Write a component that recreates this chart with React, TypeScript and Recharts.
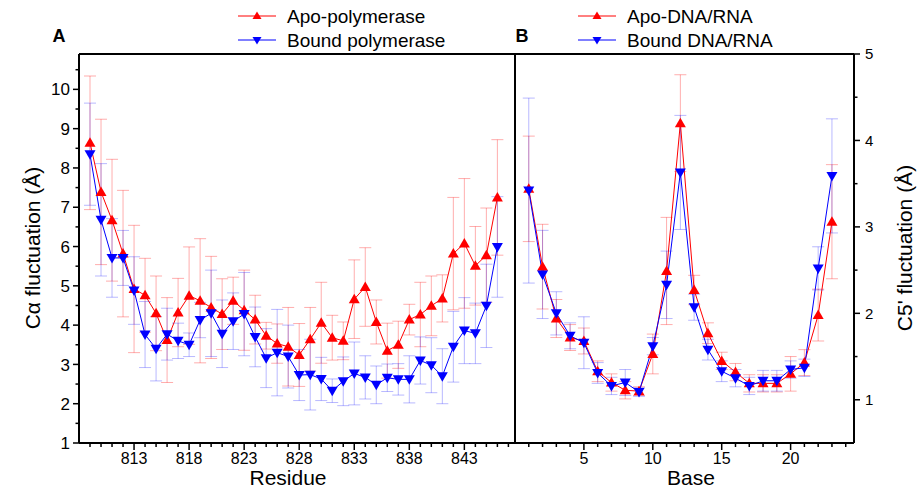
import React from "react";
import { LineChart, Line, XAxis, YAxis, ErrorBar, ReferenceLine } from "recharts";

// Panel A: C-alpha fluctuation per residue
const residues = [
  809, 810, 811, 812, 813, 814, 815, 816, 817, 818, 819, 820, 821, 822, 823, 824, 825, 826, 827,
  828, 829, 830, 831, 832, 833, 834, 835, 836, 837, 838, 839, 840, 841, 842, 843, 844, 845, 846,
];
const apoPolymerase = [
  8.64, 7.39, 6.67, 5.82, 4.92, 4.76, 4.3, 3.62, 4.32, 4.75, 4.62, 4.45, 4.28, 4.62, 4.38, 4.14, 3.73, 3.53, 3.45,
  3.24, 3.64, 4.06, 3.68, 3.6, 4.66, 4.97, 4.08, 3.35, 3.5, 4.14, 4.27, 4.49, 4.68, 5.82, 6.08, 5.51, 5.78, 7.25,
];
const apoPolymeraseErr = [
  1.7, 1.85, 1.55, 1.61, 1.62, 0.94, 0.95, 1.08, 0.87, 1.24, 1.58, 1.3, 0.9, 0.6, 1.02, 0.62, 0.34, 0.5, 1.0,
  0.8, 0.81, 1.03, 0.57, 0.48, 1.0, 1.0, 0.56, 0.7, 0.6, 0.39, 0.82, 0.76, 0.6, 1.43, 1.65, 1.0, 1.2, 1.47,
];
const boundPolymerase = [
  8.35, 6.68, 5.71, 5.71, 4.88, 3.76, 3.4, 3.77, 3.6, 3.5, 4.13, 4.3, 3.78, 4.1, 4.28, 3.7, 3.16, 3.3, 3.2,
  2.73, 2.74, 2.63, 2.33, 2.57, 2.77, 2.67, 2.48, 2.66, 2.62, 2.62, 3.1, 2.98, 2.7, 3.45, 3.86, 3.79, 4.49, 5.99,
];
const boundPolymeraseErr = [
  1.3, 1.43, 1.0, 0.7, 0.86, 0.84, 0.82, 0.66, 0.45, 0.3, 0.45, 1.1, 0.86, 0.72, 1.06, 0.76, 0.75, 1.1, 0.8,
  0.65, 0.9, 0.55, 0.3, 0.62, 0.8, 0.55, 0.48, 0.35, 0.4, 0.6, 0.6, 0.7, 0.7, 0.9, 0.84, 0.77, 1.06, 1.28,
];

// Panel B: C5' fluctuation per base
const bases = [1, 2, 3, 4, 5, 6, 7, 8, 9, 10, 11, 12, 13, 14, 15, 16, 17, 18, 19, 20, 21, 22, 23];
const apoNucleic = [
  3.44, 2.54, 1.94, 1.72, 1.68, 1.33, 1.2, 1.11, 1.1, 1.53, 2.49, 4.2, 2.27, 1.77, 1.45, 1.32, 1.19, 1.19, 1.19,
  1.3, 1.43, 1.98, 3.06,
];
const apoNucleicErr = [
  0.61, 0.49, 0.22, 0.15, 0.15, 0.12, 0.1, 0.1, 0.05, 0.23, 0.62, 0.56, 0.17, 0.12, 0.1, 0.1, 0.1, 0.1, 0.1,
  0.2, 0.15, 0.3, 0.66,
];
const boundNucleic = [
  3.42, 2.45, 2.0, 1.74, 1.66, 1.31, 1.16, 1.2, 1.09, 1.62, 2.33, 3.63, 2.07, 1.58, 1.33, 1.25, 1.16, 1.22, 1.22,
  1.35, 1.37, 2.52, 3.59,
];
const boundNucleicErr = [
  1.07, 0.51, 0.25, 0.15, 0.3, 0.12, 0.1, 0.15, 0.05, 0.1, 0.39, 0.66, 0.15, 0.12, 0.12, 0.1, 0.1, 0.12, 0.12,
  0.1, 0.1, 0.25, 0.66,
];

const residueLabels = [813, 818, 823, 828, 833, 838, 843];
const baseLabels = [5, 10, 15, 20];
const leftYLabels = [1, 2, 3, 4, 5, 6, 7, 8, 9, 10];
const rightYLabels = [1, 2, 3, 4, 5];

const X_A: [number, number] = [808, 847.6];
const Y_A: [number, number] = [1, 10.9];
const X_B: [number, number] = [0, 24.6];
const Y_B: [number, number] = [0.5, 5];

const FONT = "'Liberation Sans', Arial, sans-serif";
const RED = "#ff0000";
const BLUE = "#0000ff";
const RED_ERR = "rgba(255,0,0,0.32)";
const BLUE_ERR = "rgba(0,0,255,0.28)";

const polData = residues.map((r, i) => ({
  residue: r,
  apo: apoPolymerase[i],
  apoErr: apoPolymeraseErr[i],
  bound: boundPolymerase[i],
  boundErr: boundPolymeraseErr[i],
}));

const naData = bases.map((b, i) => ({
  base: b,
  apo: apoNucleic[i],
  apoErr: apoNucleicErr[i],
  bound: boundNucleic[i],
  boundErr: boundNucleicErr[i],
}));

// minor tick positions
const range = (a: number, b: number, step: number) => {
  const out: number[] = [];
  for (let v = a; v <= b + 1e-9; v += step) out.push(Math.round(v * 10) / 10);
  return out;
};
const residueTicks = range(809, 847, 1);
const baseTicks = range(1, 24, 1);
const leftYTicks = range(1, 10.5, 0.5);
const rightYTicks = range(1, 5, 0.5);

const upTri = (props: any) => {
  const { cx, cy, index } = props;
  if (cx == null || cy == null) return <g key={index} />;
  return <polygon key={index} points={`${cx},${cy - 5.5} ${cx - 5.5},${cy + 4} ${cx + 5.5},${cy + 4}`} fill={RED} />;
};
const downTri = (props: any) => {
  const { cx, cy, index } = props;
  if (cx == null || cy == null) return <g key={index} />;
  return <polygon key={index} points={`${cx - 5.5},${cy - 4} ${cx + 5.5},${cy - 4} ${cx},${cy + 5.5}`} fill={BLUE} />;
};

const bottomTick = (labels: number[]) => (props: any) => {
  const { x, y, payload } = props;
  const major = labels.includes(payload.value);
  return (
    <g>
      <line x1={x} x2={x} y1={y} y2={y + (major ? 7 : 4)} stroke="#000" strokeWidth={1.5} />
      {major && (
        <text x={x} y={y + 21} textAnchor="middle" fontSize={16} fontFamily={FONT} fill="#000">
          {payload.value}
        </text>
      )}
    </g>
  );
};

const leftTick = (props: any) => {
  const { x, y, payload } = props;
  const major = leftYLabels.includes(payload.value);
  return (
    <g>
      <line x1={x} x2={x - (major ? 6 : 3.5)} y1={y} y2={y} stroke="#000" strokeWidth={1.5} />
      {major && (
        <text x={x - 9} y={y} dy="0.36em" textAnchor="end" fontSize={17} fontFamily={FONT} fill="#000">
          {payload.value}
        </text>
      )}
    </g>
  );
};

const rightTick = (props: any) => {
  const { x, y, payload } = props;
  const major = rightYLabels.includes(payload.value);
  return (
    <g>
      <line x1={x} x2={x + (major ? 6 : 3.5)} y1={y} y2={y} stroke="#000" strokeWidth={1.5} />
      {major && (
        <text x={x + 11} y={y} dy="0.36em" textAnchor="start" fontSize={15} fontFamily={FONT} fill="#000">
          {payload.value}
        </text>
      )}
    </g>
  );
};

function LegendItem({ x, y, up, label }: { x: number; y: number; up: boolean; label: string }) {
  const color = up ? RED : BLUE;
  const mx = x + 19;
  return (
    <g>
      <line x1={x} x2={x + 38} y1={y} y2={y} stroke={color} strokeWidth={1} />
      {up ? (
        <polygon points={`${mx},${y - 4.5} ${mx - 4.5},${y + 3} ${mx + 4.5},${y + 3}`} fill={color} />
      ) : (
        <polygon points={`${mx - 4.5},${y - 3} ${mx + 4.5},${y - 3} ${mx},${y + 4.5}`} fill={color} />
      )}
      <text x={x + 49} y={y} dy="0.36em" fontSize={19} fontFamily={FONT} fill="#000">
        {label}
      </text>
    </g>
  );
}

const frame = { stroke: "#000", strokeWidth: 2 };

export default function App() {
  return (
    <div style={{ position: "absolute", left: 0, top: 0, width: 919, height: 492, background: "#fff" }}>
      <div style={{ position: "absolute", left: 0, top: 0 }}>
        <LineChart width={515} height={492} data={polData} margin={{ top: 54, right: 0, bottom: 0, left: 0 }}>
          <XAxis
            dataKey="residue"
            type="number"
            domain={X_A}
            allowDataOverflow
            ticks={residueTicks}
            interval={0}
            height={49}
            tickSize={0}
            tickMargin={0}
            tick={bottomTick(residueLabels)}
            stroke="#000"
            strokeWidth={2}
          />
          <YAxis
            type="number"
            domain={Y_A}
            allowDataOverflow
            ticks={leftYTicks}
            interval={0}
            width={79}
            tickSize={0}
            tickMargin={0}
            tick={leftTick}
            stroke="#000"
            strokeWidth={2}
          />
          <ReferenceLine x={X_A[0]} {...frame} />
          <ReferenceLine y={Y_A[0]} {...frame} />
          <ReferenceLine y={Y_A[1]} {...frame} />
          <Line
            dataKey="apo"
            stroke={RED}
            strokeWidth={1}
            dot={upTri}
            activeDot={false}
            isAnimationActive={false}
          >
            <ErrorBar dataKey="apoErr" width={6} stroke={RED_ERR} strokeWidth={1} isAnimationActive={false} />
          </Line>
          <Line
            dataKey="bound"
            stroke={BLUE}
            strokeWidth={1}
            dot={downTri}
            activeDot={false}
            isAnimationActive={false}
          >
            <ErrorBar dataKey="boundErr" width={6} stroke={BLUE_ERR} strokeWidth={1} isAnimationActive={false} />
          </Line>
        </LineChart>
      </div>

      <div style={{ position: "absolute", left: 500, top: 0 }}>
        <LineChart width={419} height={492} data={naData} margin={{ top: 54, right: 0, bottom: 0, left: 15 }}>
          <XAxis
            dataKey="base"
            type="number"
            domain={X_B}
            allowDataOverflow
            ticks={baseTicks}
            interval={0}
            height={49}
            tickSize={0}
            tickMargin={0}
            tick={bottomTick(baseLabels)}
            stroke="#000"
            strokeWidth={2}
          />
          <YAxis
            yAxisId="r"
            orientation="right"
            type="number"
            domain={Y_B}
            allowDataOverflow
            ticks={rightYTicks}
            interval={0}
            width={65}
            tickSize={0}
            tickMargin={0}
            tick={rightTick}
            stroke="#000"
            strokeWidth={2}
          />
          <ReferenceLine yAxisId="r" x={X_B[0]} {...frame} />
          <ReferenceLine yAxisId="r" x={X_B[1]} {...frame} />
          <ReferenceLine yAxisId="r" y={Y_B[0]} {...frame} />
          <ReferenceLine yAxisId="r" y={Y_B[1]} {...frame} />
          <Line
            yAxisId="r"
            dataKey="apo"
            stroke={RED}
            strokeWidth={1}
            dot={upTri}
            activeDot={false}
            isAnimationActive={false}
          >
            <ErrorBar dataKey="apoErr" width={6} stroke={RED_ERR} strokeWidth={1} isAnimationActive={false} />
          </Line>
          <Line
            yAxisId="r"
            dataKey="bound"
            stroke={BLUE}
            strokeWidth={1}
            dot={downTri}
            activeDot={false}
            isAnimationActive={false}
          >
            <ErrorBar dataKey="boundErr" width={6} stroke={BLUE_ERR} strokeWidth={1} isAnimationActive={false} />
          </Line>
        </LineChart>
      </div>

      <svg
        width={919}
        height={492}
        style={{ position: "absolute", left: 0, top: 0, pointerEvents: "none" }}
      >
        <LegendItem x={238} y={16} up label="Apo-polymerase" />
        <LegendItem x={238} y={40} up={false} label="Bound polymerase" />
        <LegendItem x={578} y={16} up label="Apo-DNA/RNA" />
        <LegendItem x={578} y={40} up={false} label="Bound DNA/RNA" />
        <text x={59} y={36} dy="0.36em" textAnchor="middle" fontSize={18} fontWeight="bold" fontFamily={FONT}>
          A
        </text>
        <text x={522} y={36} dy="0.36em" textAnchor="middle" fontSize={18} fontWeight="bold" fontFamily={FONT}>
          B
        </text>
        <text x={288} y={485} textAnchor="middle" fontSize={21} fontFamily={FONT}>
          Residue
        </text>
        <text x={691} y={485} textAnchor="middle" fontSize={21} fontFamily={FONT}>
          Base
        </text>
        <text
          transform="translate(32,248) rotate(-90)"
          textAnchor="middle"
          dy="0.36em"
          fontSize={21}
          fontFamily={FONT}
        >
          Cα fluctuation (Å)
        </text>
        <text
          transform="translate(904,248) rotate(-90)"
          textAnchor="middle"
          dy="0.36em"
          fontSize={21}
          fontFamily={FONT}
        >
          C5' fluctuation (Å)
        </text>
      </svg>
    </div>
  );
}
